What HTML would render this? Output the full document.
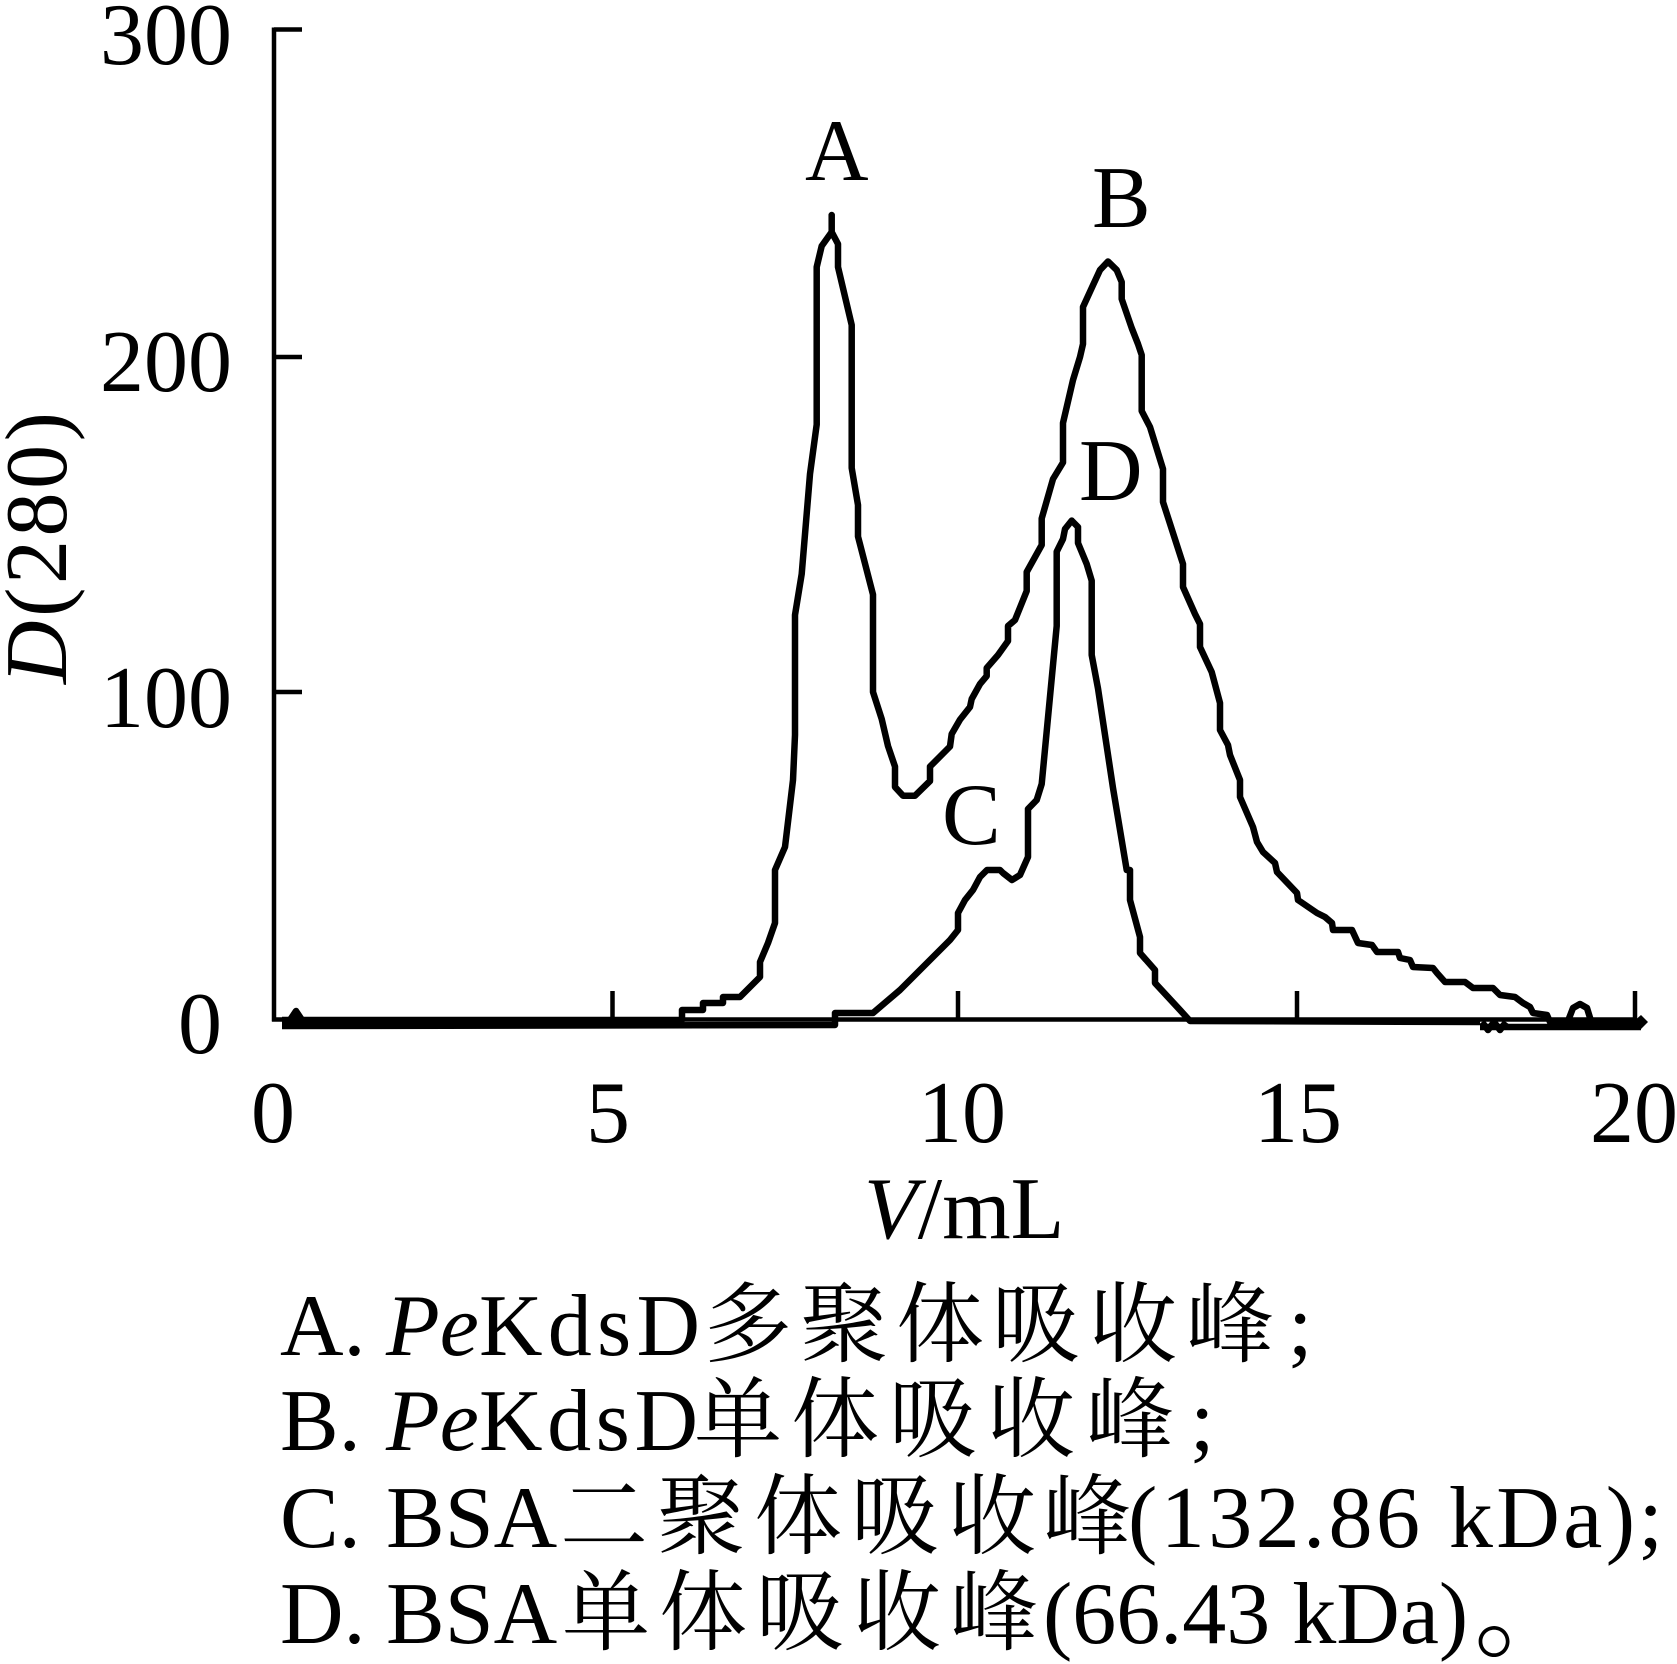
<!DOCTYPE html>
<html>
<head>
<meta charset="utf-8">
<style>
html,body{margin:0;padding:0;background:#fff;}
svg{display:block;}
text{font-family:"Liberation Serif","Noto Serif CJK SC",serif;fill:#000;}
</style>
</head>
<body>
<svg width="1677" height="1664" viewBox="0 0 1677 1664" xmlns="http://www.w3.org/2000/svg">
<rect width="1677" height="1664" fill="#fff"/>

<!-- Axes -->
<g stroke="#000" stroke-width="4.5" fill="none" stroke-linecap="butt">
  <line x1="274" y1="27.5" x2="274" y2="1021.5"/>
  <line x1="272" y1="1019.5" x2="1637" y2="1019.5"/>
  <line x1="274" y1="29.5" x2="302" y2="29.5"/>
  <line x1="274" y1="357" x2="302" y2="357"/>
  <line x1="274" y1="692" x2="302" y2="692"/>
  <line x1="612.5" y1="991" x2="612.5" y2="1019"/>
  <line x1="958" y1="991" x2="958" y2="1019"/>
  <line x1="1297" y1="991" x2="1297" y2="1019"/>
  <line x1="1635" y1="991" x2="1635" y2="1019"/>
</g>

<!-- Tick labels -->
<g font-size="88">
  <text x="232" y="64" text-anchor="end">300</text>
  <text x="232" y="391" text-anchor="end">200</text>
  <text x="232" y="727" text-anchor="end">100</text>
  <text x="222" y="1053" text-anchor="end">0</text>
  <text x="273" y="1142" text-anchor="middle">0</text>
  <text x="608" y="1142" text-anchor="middle">5</text>
  <text x="962" y="1142" text-anchor="middle">10</text>
  <text x="1298" y="1142" text-anchor="middle">15</text>
  <text x="1634" y="1142" text-anchor="middle">20</text>
</g>

<!-- Axis titles -->
<text font-size="88" transform="translate(66,548) rotate(-90)" text-anchor="middle" textLength="272"><tspan font-style="italic">D</tspan>(280)</text>
<text font-size="88" x="864" y="1238"><tspan font-style="italic">V</tspan>/mL</text>

<!-- Data curves -->
<g stroke="#000" stroke-width="6.5" fill="none" stroke-linejoin="round" stroke-linecap="butt">
  <path d="M 282 1020 L 682 1020 L 682 1010 L 703 1010 L 703 1003 L 723 1003 L 723 997 L 740 997 L 760 977 L 760 962 L 768 943 L 775 923 L 775 870 L 785 847 L 793 780 L 795 735 L 795 615 L 801.7 574 L 810 474 L 816.7 424.6 L 816.7 267 L 821.7 246 L 831.7 232 L 831.7 215 L 831.7 232 L 838 244 L 838 267 L 851.7 325 L 851.7 468 L 858 505 L 858 536.5 L 873 594.6 L 873 692 L 881.7 719 L 888 746 L 895 766.6 L 895 787 L 903 795.7 L 915 795.7 L 930 781 L 930 766.6 L 950 746.5 L 951.7 734 L 960 719.6 L 970 707 L 971.7 699 L 980 684 L 986.7 676 L 986.7 668 L 998 655 L 1008 641 L 1008 626 L 1015 620 L 1026.7 591 L 1026.7 572 L 1041.7 545 L 1041.7 518.5 L 1053 479 L 1063 462.5 L 1063 423 L 1073 380 L 1080 357 L 1083 344 L 1083 307 L 1091.7 288 L 1100 270 L 1108 261.5 L 1116.7 270 L 1121.7 282 L 1121.7 299 L 1131.7 328 L 1138 344 L 1141.7 355 L 1141.7 411 L 1150 427 L 1163 469 L 1163 502 L 1183 564 L 1183 587 L 1195 614 L 1200 624 L 1200 647 L 1211.7 672 L 1220 703 L 1220 730 L 1228 745 L 1230 755 L 1240 780 L 1240 797 L 1253 827 L 1257 842 L 1263 852 L 1275 863 L 1277 872 L 1297 893 L 1298 900 L 1317 913 L 1325 917 L 1332 923 L 1333 930 L 1352 930 L 1358 943 L 1372 945 L 1377 952 L 1398 952 L 1400 958 L 1410 960 L 1413 967 L 1433 968 L 1437 973 L 1445 982 L 1465 982 L 1473 988 L 1493 988 L 1500 995 L 1515 997 L 1523 1003 L 1530 1007 L 1533 1013 L 1547 1015 L 1550 1022 L 1641 1022"/>
  <path d="M 282 1026 L 835 1025 L 835 1013 L 873 1013 L 900 990 L 950 940 L 958 930 L 958 913 L 965 900 L 973 890 L 980 877 L 987 870 L 1000 870 L 1003 873 L 1012 880 L 1020 875 L 1028 857 L 1028 809 L 1036.7 800 L 1041.7 784 L 1056.7 626 L 1056.7 551.7 L 1063 539 L 1065 529 L 1071.7 520.6 L 1078 527 L 1078 543 L 1086.7 564 L 1091.7 580.7 L 1091.7 655 L 1098 688.5 L 1113 788 L 1126.7 870 L 1130 870 L 1130 900 L 1140 937 L 1140 953 L 1155 970 L 1155 983 L 1180 1010 L 1190 1021 L 1480 1022"/>
  <path d="M 1480 1027 L 1641 1027"/>
  <path d="M 1568 1021 L 1573 1008 L 1580 1004 L 1587 1008 L 1591 1021"/>
  <path d="M 1482 1022 L 1488 1030 L 1494 1022 L 1500 1030 L 1506 1022"/>
  <path d="M 290 1020 L 296 1011 L 302 1020"/>
</g>
<path d="M 1633 1022 L 1641 1015 L 1648 1022 L 1641 1029 Z" fill="#000"/>

<!-- Peak labels -->
<g font-size="88">
  <text x="805" y="180">A</text>
  <text x="1092" y="227">B</text>
  <text x="942" y="844">C</text>
  <text x="1079" y="500">D</text>
</g>

<!-- Caption -->
<g font-size="88">
  <text x="280" y="1355">A.</text>
  <text x="386" y="1355" font-style="italic">Pe</text>
  <text x="479" y="1355" textLength="221">KdsD</text>
  <text y="1355" x="704 800 896 992 1089 1186">多聚体吸收峰</text>
  <text x="1288" y="1355">;</text>

  <text x="280" y="1450">B.</text>
  <text x="386" y="1450" font-style="italic">Pe</text>
  <text x="479" y="1450" textLength="219">KdsD</text>
  <text y="1450" x="694 791 889 987 1086">单体吸收峰</text>
  <text x="1190" y="1450">;</text>

  <text x="280" y="1547">C.</text>
  <text x="386" y="1547">BSA</text>
  <text y="1547" x="560 657 754 851 948 1043">二聚体吸收峰</text>
  <text x="1128" y="1547" textLength="535">(132.86 kDa);</text>

  <text x="280" y="1643">D.</text>
  <text x="386" y="1643">BSA</text>
  <text y="1643" x="562 659 756 853 950">单体吸收峰</text>
  <text x="1043" y="1643">(66.43 kDa)</text>
  <text x="1474" y="1648" font-size="110">。</text>
</g>
</svg>
</body>
</html>
